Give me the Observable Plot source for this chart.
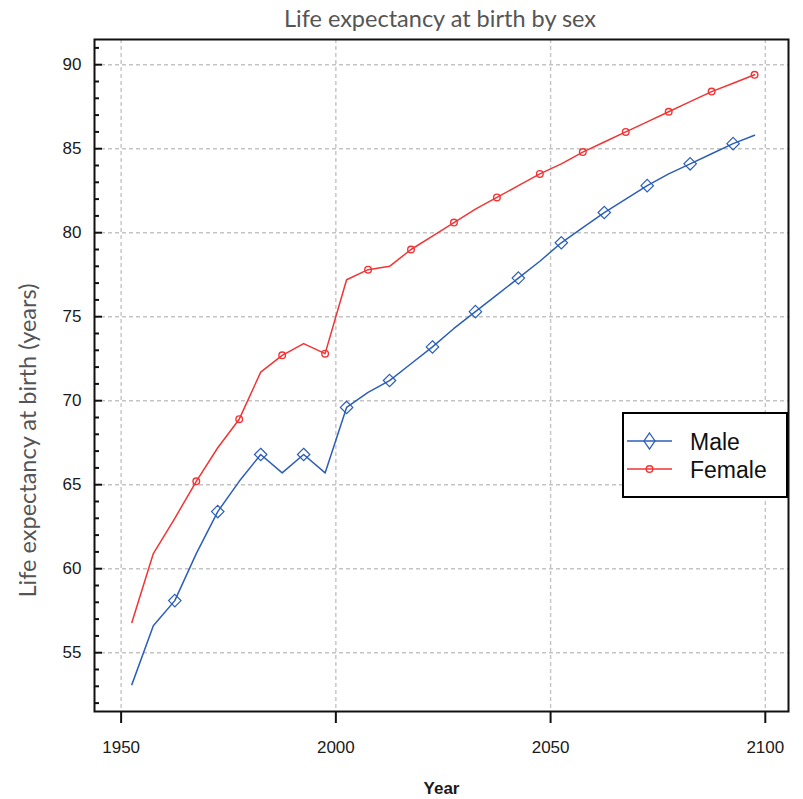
<!DOCTYPE html>
<html><head><meta charset="utf-8">
<script src="https://cdn.jsdelivr.net/npm/d3@7"></script>
<script src="https://cdn.jsdelivr.net/npm/@observablehq/plot@0.6"></script>
<style>
body{margin:0;background:#fff;}
#wrap{position:relative;width:803px;height:799px;overflow:hidden;}
#title{height:36px;line-height:37px;font-family:Lato,"Open Sans",sans-serif;font-size:23.5px;color:#555;padding-left:77px;text-align:center;box-sizing:border-box;width:803px;white-space:nowrap;overflow:visible;}
#legend{position:absolute;left:622px;top:412px;width:166px;height:86px;border:2px solid #000;box-sizing:border-box;background:#fff;}
#legend svg{display:block;}
</style></head><body>
<div id="wrap"><div id="title">Life expectancy at birth by sex</div><div id="chart"></div><div id="legend"></div></div>
<script>
const years = [1952.5,1957.5,1962.5,1967.5,1972.5,1977.5,1982.5,1987.5,1992.5,1997.5,
  2002.5,2007.5,2012.5,2017.5,2022.5,2027.5,2032.5,2037.5,2042.5,2047.5,
  2052.5,2057.5,2062.5,2067.5,2072.5,2077.5,2082.5,2087.5,2092.5,2097.5];
const maleLE = [53.1,56.6,58.1,60.9,63.4,65.2,66.8,65.7,66.8,65.7,
  69.6,70.5,71.2,72.2,73.2,74.3,75.3,76.3,77.3,78.3,
  79.4,80.3,81.2,82.0,82.8,83.5,84.1,84.7,85.3,85.8];
const femaleLE = [56.8,60.9,63.0,65.2,67.2,68.9,71.7,72.7,73.4,72.8,
  77.2,77.8,78.0,79.0,79.8,80.6,81.4,82.1,82.8,83.5,
  84.1,84.8,85.4,86.0,86.6,87.2,87.8,88.4,88.9,89.4];
const seriesNames = ["Male", "Female"];
const seriesColors = ["#2c5eb8", "#f23434"];
const xTicks = [1950, 2000, 2050, 2100];
const yTicks = [55, 60, 65, 70, 75, 80, 85, 90];
const yMinorTicks = [52,53,54,56,57,58,59,61,62,63,64,66,67,68,69,71,72,73,74,76,77,78,79,81,82,83,84,86,87,88,89,91];

const maleRows = years.map((year, i) => ({year, value: maleLE[i]}));
const femaleRows = years.map((year, i) => ({year, value: femaleLE[i]}));
const maleMarks = maleRows.filter((d, i) => i >= 2 && i % 2 === 0);
const femaleMarks = femaleRows.filter((d, i) => i >= 3 && i % 2 === 1);

const font = "Arial, 'Liberation Sans', sans-serif";
const gridStyle = {stroke: "#c4c4c4", strokeOpacity: 1, strokeDasharray: "4,3", strokeWidth: 1.4};

const chart = Plot.plot({
  width: 803, height: 763,
  marginTop: 3, marginBottom: 88, marginLeft: 94, marginRight: 15,
  x: {domain: [1943.8, 2105.4]},
  y: {domain: [51.5, 91.5]},
  style: {fontFamily: font, background: "white", overflow: "visible"},
  marks: [
    Plot.gridX(xTicks, gridStyle),
    Plot.gridY(yTicks, gridStyle),
    Plot.line(maleRows, {x: "year", y: "value", stroke: seriesColors[0], strokeWidth: 1.5}),
    Plot.line(femaleRows, {x: "year", y: "value", stroke: seriesColors[1], strokeWidth: 1.5}),
    Plot.dot(maleMarks, {x: "year", y: "value", symbol: "diamond2", r: 5.6, stroke: seriesColors[0], fill: "none", strokeWidth: 1.2}),
    Plot.dot(femaleMarks, {x: "year", y: "value", symbol: "circle", r: 3.3, stroke: seriesColors[1], fill: "none", strokeWidth: 1.4}),
    Plot.tickY(yMinorTicks, {y: d => d, stroke: "#111", strokeWidth: 2, insetRight: 689}),
    Plot.tickY(yTicks, {y: d => d, stroke: "#111", strokeWidth: 2, insetRight: 686}),
    Plot.axisX(xTicks, {tickSize: 12, tickPadding: 17, tickFormat: d => String(d), fontSize: 17, fill: "#1a1a1a", stroke: "#111", strokeWidth: 2, label: null}),
    Plot.axisY(yTicks, {tickSize: 0, tickPadding: 13, tickFormat: d => String(d), fontSize: 17, fill: "#1a1a1a", label: null}),
    Plot.frame({stroke: "#111", strokeWidth: 2}),
    Plot.text(["Year"], {frameAnchor: "bottom", dy: 82, fontWeight: "bold", fontSize: 17, fill: "#1a1a1a"}),
    Plot.text(["Life expectancy at birth (years)"], {frameAnchor: "left", textAnchor: "middle", dx: -66, dy: 65, rotate: -90, fontSize: 23.5, fontFamily: "Lato, 'Open Sans', sans-serif", fill: "#555"})
  ]
});
document.getElementById("chart").appendChild(chart);

// legend built from the series arrays
const lg = d3.select("#legend").append("svg").attr("width", 162).attr("height", 82);
seriesNames.forEach((name, i) => {
  const cy = 27 + i * 28;
  const g = lg.append("g");
  g.append("line").attr("x1", 3).attr("x2", 48).attr("y1", cy).attr("y2", cy)
    .attr("stroke", seriesColors[i]).attr("stroke-width", 1.5);
  if (i === 0) {
    g.append("polygon").attr("points", `25.5,${cy-8} 31,${cy} 25.5,${cy+8} 20,${cy}`)
      .attr("fill", "none").attr("stroke", seriesColors[i]).attr("stroke-width", 1.3);
  } else {
    g.append("circle").attr("cx", 25.5).attr("cy", cy).attr("r", 3.3)
      .attr("fill", "none").attr("stroke", seriesColors[i]).attr("stroke-width", 1.4);
  }
  g.append("text").attr("x", 66).attr("y", cy + 8.5).text(name)
    .attr("font-family", font).attr("font-size", 23).attr("fill", "#111");
});
</script>
</body></html>
